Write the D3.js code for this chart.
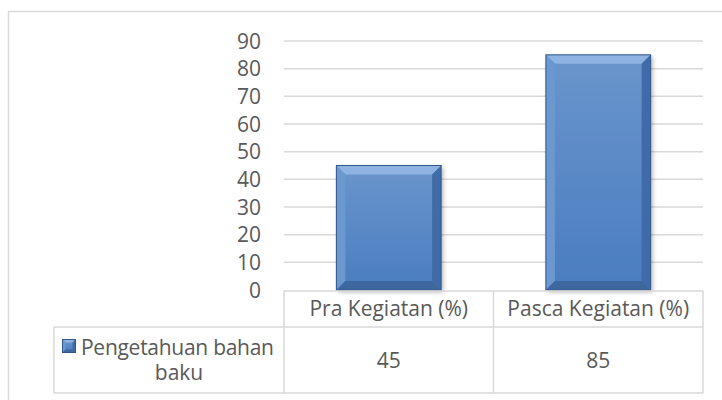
<!DOCTYPE html>
<head>
  <script src="https://d3js.org/d3.v7.min.js"></script>
  <style>
    body { margin: 0; background: #fff; }
    text { font-family: "Open Sans", Lato, sans-serif; fill: #595959; }
  </style>
</head>
<body>

<svg width="722" height="400"></svg>

<script>
  const categories = ["Pra Kegiatan (%)", "Pasca Kegiatan (%)"];
  const values = [45, 85];
  const seriesLines = ["Pengetahuan bahan", "baku"];
  const yMax = 90;

  const svg = d3.select("svg");
  const grid = "#d9d9d9";
  const fontSize = 21;

  const plotLeft = 284, plotRight = 703, plotTop = 41, plotBottom = 290;
  const tableLeft = 54, headBottom = 327, tableBottom = 393;

  const xScale = d3.scaleBand()
    .domain(categories)
    .range([plotLeft, plotRight])
    .paddingInner(0.5)
    .paddingOuter(0.25);

  const yScale = d3.scaleLinear()
    .domain([0, yMax])
    .range([plotBottom, plotTop]);

  // gradients
  const defs = svg.append("defs");
  const grad = defs.append("linearGradient").attr("id", "barFill")
    .attr("x1", 0).attr("y1", 0).attr("x2", 0).attr("y2", 1);
  grad.append("stop").attr("offset", "0%").attr("stop-color", "#6a95cc");
  grad.append("stop").attr("offset", "100%").attr("stop-color", "#4a7dc0");
  const shadow = defs.append("filter").attr("id", "shadow")
    .attr("x", "-10%").attr("y", "-10%").attr("width", "130%").attr("height", "130%");
  shadow.append("feDropShadow").attr("dx", 2).attr("dy", 2).attr("stdDeviation", 2)
    .attr("flood-color", "#000").attr("flood-opacity", 0.3);

  // outer frame
  svg.append("rect")
    .attr("x", 8.5).attr("y", 11.5).attr("width", 800).attr("height", 500)
    .attr("fill", "none").attr("stroke", grid).attr("stroke-width", 1.5);

  // gridlines
  svg.append("g")
    .selectAll("line")
    .data(yScale.ticks(9).filter(d => d > 0))
    .enter().append("line")
    .attr("x1", plotLeft).attr("x2", plotRight)
    .attr("y1", d => yScale(d)).attr("y2", d => yScale(d))
    .attr("stroke", grid).attr("stroke-width", 1.5);

  // y labels
  svg.append("g")
    .selectAll("text")
    .data(yScale.ticks(9))
    .enter().append("text")
    .attr("x", 261)
    .attr("y", d => yScale(d))
    .attr("dy", "0.36em")
    .attr("text-anchor", "end")
    .style("font-size", fontSize + "px")
    .text(d => d);

  // bevelled bar
  function bevel(g, x, y, w, h, b, withShadow) {
    g.append("rect").attr("x", x).attr("y", y).attr("width", w).attr("height", h)
      .attr("fill", "url(#barFill)").attr("filter", withShadow ? "url(#shadow)" : null);
    const pts = (a) => a.map(p => p.join(",")).join(" ");
    g.append("polygon").attr("points", pts([[x, y], [x + w, y], [x + w - b, y + b], [x + b, y + b]]))
      .attr("fill", "#8fb3e2");
    g.append("polygon").attr("points", pts([[x, y], [x + b, y + b], [x + b, y + h - b], [x, y + h]]))
      .attr("fill", "#6c98d0");
    g.append("polygon").attr("points", pts([[x + w, y], [x + w, y + h], [x + w - b, y + h - b], [x + w - b, y + b]]))
      .attr("fill", "#3f6ca8");
    g.append("polygon").attr("points", pts([[x, y + h], [x + w, y + h], [x + w - b, y + h - b], [x + b, y + h - b]]))
      .attr("fill", "#3c679f");
    g.append("rect").attr("x", x).attr("y", y).attr("width", w).attr("height", h)
      .attr("fill", "none").attr("stroke", "#34578a").attr("stroke-width", 1);
  }

  const bars = svg.append("g");
  categories.forEach((c, i) => {
    bevel(bars, xScale(c), yScale(values[i]), xScale.bandwidth(), yScale(0) - yScale(values[i]), 9, true);
  });

  // data table
  const table = svg.append("g")
    .attr("stroke", grid).attr("stroke-width", 1.5).attr("fill", "none");
  table.append("line").attr("x1", plotLeft).attr("x2", plotRight).attr("y1", plotBottom + 1).attr("y2", plotBottom + 1);
  table.append("line").attr("x1", tableLeft).attr("x2", plotRight).attr("y1", headBottom).attr("y2", headBottom);
  table.append("line").attr("x1", tableLeft).attr("x2", plotRight).attr("y1", tableBottom).attr("y2", tableBottom);
  table.append("line").attr("x1", tableLeft).attr("x2", tableLeft).attr("y1", headBottom).attr("y2", tableBottom);
  const step = xScale.step();
  [0, 1, 2].forEach(k => {
    const x = plotLeft + k * step;
    table.append("line").attr("x1", x).attr("x2", x).attr("y1", plotBottom + 1).attr("y2", tableBottom);
  });

  svg.append("g")
    .selectAll("text")
    .data(categories)
    .enter().append("text")
    .attr("x", d => xScale(d) + xScale.bandwidth() / 2)
    .attr("y", (plotBottom + headBottom) / 2)
    .attr("dy", "0.36em")
    .attr("text-anchor", "middle")
    .style("font-size", fontSize + "px")
    .text(d => d);

  svg.append("g")
    .selectAll("text")
    .data(values)
    .enter().append("text")
    .attr("x", (d, i) => xScale(categories[i]) + xScale.bandwidth() / 2)
    .attr("y", (headBottom + tableBottom) / 2)
    .attr("dy", "0.36em")
    .attr("text-anchor", "middle")
    .style("font-size", fontSize + "px")
    .text(d => d);

  // legend key + series name (two lines in one text)
  const key = svg.append("g");
  bevel(key, 62.5, 339.5, 13, 13, 3, false);

  const label = svg.append("text")
    .style("font-size", fontSize + "px");
  label.append("tspan")
    .attr("x", 81).attr("y", 355)
    .attr("textLength", 193)
    .text(seriesLines[0]);
  label.append("tspan")
    .attr("x", 179).attr("y", 380)
    .attr("text-anchor", "middle")
    .text(seriesLines[1]);
</script>

</body>
</html>
